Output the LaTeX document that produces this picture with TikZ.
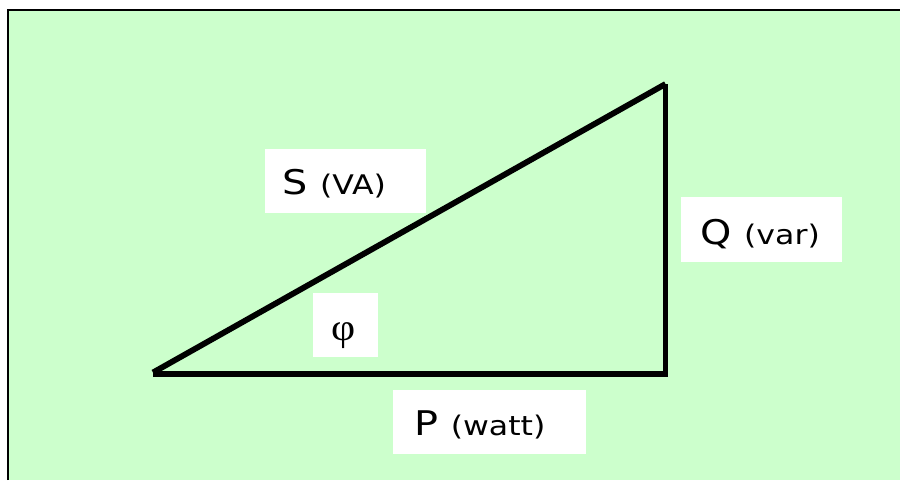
\documentclass[tikz,border=0pt]{standalone}
\usepackage{fontspec}
\setmainfont{DejaVu Sans}
\newfontfamily\phifont{Liberation Serif}
\definecolor{bggreen}{HTML}{CCFFCC}
\newcommand{\biglbl}[2]{\scalebox{1.17}[1]{\fontsize{34}{34}\selectfont #1 \fontsize{27}{27}\selectfont(#2)}}
\tikzset{
  side/.style={line width=5.8pt, black, line cap=butt},
  labelbox/.style={fill=white, draw=none, inner sep=0pt, anchor=north west},
  labeltext/.style={anchor=base west, inner sep=0pt, text=black},
}
\begin{document}
\begin{tikzpicture}[x=1pt,y=-1pt]
\useasboundingbox (0,0) rectangle (900,480);
\fill[bggreen] (8,10) rectangle (900,480);
\draw[line width=2.2pt] (8,480) -- (8,10) -- (900,10);
% triangle
\coordinate (A) at (153,374);
\coordinate (B) at (665.5,374);
\coordinate (C) at (665.5,84);
\draw[side] (153,374) -- (668.4,374);
\draw[side] (B) ++(0,2.9) -- (C);
\draw[side] (A) ++(0,-1.5) -- (C);
% label boxes
\node[labelbox, minimum width=161pt, minimum height=64pt] (sbox) at (265,149) {};
\node[labelbox, minimum width=65pt, minimum height=64pt] (phibox) at (313,293) {};
\node[labelbox, minimum width=193pt, minimum height=64pt] (pbox) at (393,390) {};
\node[labelbox, minimum width=161pt, minimum height=65pt] (qbox) at (681,197) {};
% texts
\node[labeltext] (stxt) at (282,194.5) {\biglbl{S}{VA}};
\node[labeltext] (ptxt) at (414,435) {\biglbl{P}{watt}};
\node[labeltext] (qtxt) at (700,244.5) {\biglbl{Q}{var}};
\node[anchor=center, inner sep=0pt] (phitxt) at (343.4,335.4) {\scalebox{1.1}[1]{\phifont\fontsize{38}{38}\selectfont φ}};
\end{tikzpicture}
\end{document}
